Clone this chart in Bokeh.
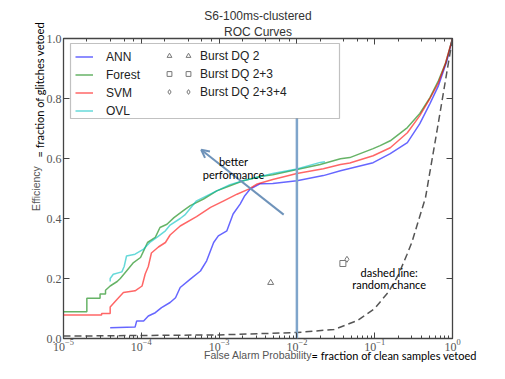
import numpy as np
from bokeh.plotting import figure
from bokeh.models import (LogAxis, LinearAxis, Legend, LegendItem, Label, Arrow, OpenHead, Title,
                          BoxAnnotation, FixedTicker, CustomJSTickFormatter, NumeralTickFormatter)
from bokeh.embed import file_html
from bokeh.resources import INLINE

# ---- data (log10 of false alarm probability, efficiency) ----
ann_logx = [-4.40, -4.08, -4.06, -3.97, -3.91, -3.82, -3.74, -3.63, -3.56, -3.50, -3.37, -3.24, -3.16,
            -3.07, -3.01, -2.90, -2.82, -2.73, -2.67, -2.60, -2.47, -2.31, -2.00, -1.66, -1.44, -1.02,
            -0.80, -0.58, -0.42, -0.29, -0.18, -0.07, 0.0]
ann_eff = [0.036, 0.038, 0.058, 0.058, 0.075, 0.086, 0.103, 0.120, 0.136, 0.170, 0.198, 0.225, 0.259,
           0.320, 0.342, 0.359, 0.415, 0.448, 0.476, 0.498, 0.516, 0.517, 0.526, 0.543, 0.559, 0.586,
           0.616, 0.653, 0.716, 0.783, 0.843, 0.927, 1.0]

forest_logx = [-5.0, -4.70, -4.70, -4.53, -4.53, -4.46, -4.46, -4.40, -4.31, -4.27, -4.19, -4.10, -4.01,
               -3.97, -3.92, -3.82, -3.76, -3.67, -3.58, -3.46, -3.37, -3.20, -3.03, -2.86, -2.69, -2.47,
               -2.31, -2.00, -1.70, -1.44, -1.32, -1.02, -0.93, -0.80, -0.58, -0.42, -0.29, -0.18, -0.09, 0.0]
forest_eff = [0.089, 0.089, 0.134, 0.134, 0.148, 0.148, 0.161, 0.175, 0.190, 0.200, 0.225, 0.253, 0.270,
              0.292, 0.320, 0.337, 0.370, 0.381, 0.403, 0.426, 0.443, 0.465, 0.492, 0.509, 0.526, 0.540,
              0.546, 0.563, 0.580, 0.599, 0.603, 0.633, 0.643, 0.659, 0.703, 0.750, 0.803, 0.860, 0.917, 1.0]

svm_logx = [-5.0, -4.51, -4.51, -4.40, -4.40, -4.31, -4.23, -4.08, -3.99, -3.95, -3.91, -3.87, -3.78,
            -3.69, -3.63, -3.50, -3.29, -3.11, -2.94, -2.77, -2.62, -2.51, -2.31, -2.00, -1.66, -1.44,
            -1.32, -1.02, -0.80, -0.58, -0.42, -0.29, -0.18, -0.09, 0.0]
svm_eff = [0.078, 0.078, 0.083, 0.083, 0.105, 0.131, 0.153, 0.159, 0.175, 0.215, 0.240, 0.285, 0.305,
           0.320, 0.345, 0.375, 0.406, 0.437, 0.459, 0.481, 0.498, 0.515, 0.530, 0.550, 0.566, 0.580,
           0.585, 0.609, 0.636, 0.686, 0.743, 0.800, 0.853, 0.917, 1.0]

ovl_logx = [-4.40, -4.40, -4.36, -4.25, -4.22, -4.19, -4.08, -3.97, -3.89, -3.80, -3.69, -3.63, -3.50,
            -3.44, -3.29, -3.03, -2.86, -2.69, -2.31, -2.00, -1.70, -1.64]
ovl_eff = [0.190, 0.200, 0.214, 0.222, 0.240, 0.275, 0.281, 0.298, 0.320, 0.337, 0.359, 0.378, 0.400,
           0.412, 0.459, 0.492, 0.513, 0.526, 0.550, 0.565, 0.587, 0.589]

rand_fap = [1e-5, 1e-3, 1e-2, 0.03, 0.06, 0.1, 0.15, 0.2, 0.26, 0.3, 0.45, 0.63, 0.8, 1.0]
rand_eff = [0.008, 0.012, 0.02, 0.03, 0.06, 0.10, 0.155, 0.21, 0.28, 0.32, 0.47, 0.69, 0.85, 1.0]

dq2_fap, dq2_eff = [0.0046], [0.186]
dq23_fap, dq23_eff = [0.039], [0.250]
dq234_fap, dq234_eff = [0.044], [0.264]

vline_fap = [0.01]
vline_eff = [0.0, 0.74]

y_ticks = [0.0, 0.2, 0.4, 0.6, 0.8, 1.0]

AX = "#444444"
p = figure(frame_width=389, frame_height=300, x_axis_type="log", x_range=(1e-5, 1.0), y_range=(0.0, 1.0),
           output_backend="svg", toolbar_location=None,
           min_border_left=63, min_border_right=48, min_border_top=38, min_border_bottom=35)
p.xgrid.visible = False
p.ygrid.visible = False
p.outline_line_color = AX
p.outline_line_width = 1.3
p.background_fill_color = "white"
p.border_fill_color = "white"

def style_axis(ax, labels=True, minor=True):
    ax.axis_line_color = None
    ax.major_tick_in = 6
    ax.major_tick_out = 0
    ax.minor_tick_in = 3 if minor else 0
    ax.minor_tick_out = 0
    ax.major_tick_line_color = AX
    ax.minor_tick_line_color = AX if minor else None
    ax.major_label_text_font = "Liberation Serif"
    ax.major_label_text_font_size = "12px"
    ax.major_label_text_color = "#555555"
    ax.major_label_standoff = 2
    ax.axis_label_text_font = "Liberation Sans"
    ax.axis_label_text_font_size = "10.5px"
    ax.axis_label_text_font_style = "normal"
    ax.axis_label_text_color = "#555555"
    ax.axis_label_standoff = 2
    if not labels:
        ax.formatter = CustomJSTickFormatter(code="return ''")

xa = p.xaxis[0]
style_axis(xa)
xa.axis_label = "False Alarm Probability"
xa.major_label_standoff = 0
xa.axis_label_standoff = -5
ya = p.yaxis[0]
ya.ticker = FixedTicker(ticks=y_ticks)
ya.formatter = NumeralTickFormatter(format="0.0")
style_axis(ya, minor=False)
ya.axis_label = "Efficiency"

top = LogAxis()
style_axis(top, labels=False)
p.add_layout(top, "above")
right = LinearAxis(ticker=FixedTicker(ticks=y_ticks))
style_axis(right, labels=False, minor=False)
p.add_layout(right, "right")

lw = 1.5
r_ann = p.line(10 ** np.array(ann_logx), ann_eff, line_color="#0000ff", line_alpha=0.6, line_width=lw)
r_for = p.line(10 ** np.array(forest_logx), forest_eff, line_color="#008000", line_alpha=0.6, line_width=lw)
r_svm = p.line(10 ** np.array(svm_logx), svm_eff, line_color="#ff0000", line_alpha=0.6, line_width=lw)
r_ovl = p.line(10 ** np.array(ovl_logx), ovl_eff, line_color="#00bfbf", line_alpha=0.6, line_width=lw)
p.line(rand_fap, rand_eff, line_color="#555555", line_width=1.5, line_dash="7 4")

mk = dict(size=6, line_color="#777777", fill_color="white", line_width=1)
r_dq2 = p.scatter(dq2_fap, dq2_eff, marker="triangle", **mk)
r_dq23 = p.scatter(dq23_fap, dq23_eff, marker="square", **mk)
r_dq234 = p.scatter(dq234_fap, dq234_eff, marker="diamond", **mk)

p.segment(x0=vline_fap, y0=[vline_eff[0]], x1=vline_fap, y1=[vline_eff[1]],
          line_color="#7fa5cb", line_width=2.5)

arrow_col = "#6f93ba"
p.add_layout(Arrow(end=OpenHead(size=8, line_color=arrow_col, line_width=2),
                   x_start=10 ** -2.17, y_start=0.413, x_end=10 ** -3.23, y_end=0.629,
                   line_color=arrow_col, line_width=2))

# legend frame
p.add_layout(BoxAnnotation(left=7, right=276, bottom=220, top=295,
                           left_units="screen", right_units="screen",
                           bottom_units="screen", top_units="screen",
                           fill_color="white", fill_alpha=1.0, line_color="#333333", line_width=1.2))

leg_common = dict(border_line_color=None, background_fill_alpha=0, margin=0, padding=3,
                  spacing=3, glyph_height=15, label_height=15,
                  label_text_font="Liberation Sans", label_text_font_size="12px",
                  label_text_color="#222222")
leg1 = Legend(items=[LegendItem(label="ANN", renderers=[r_ann]),
                     LegendItem(label="Forest", renderers=[r_for]),
                     LegendItem(label="SVM", renderers=[r_svm]),
                     LegendItem(label="OVL", renderers=[r_ovl])],
              location=(12, 220), glyph_width=18, label_standoff=13, **leg_common)
leg3 = Legend(items=[LegendItem(label=" ", renderers=[r_dq2]),
                     LegendItem(label=" ", renderers=[r_dq23]),
                     LegendItem(label=" ", renderers=[r_dq234])],
              location=(100, 239), glyph_width=12, label_standoff=2, **leg_common)
leg2 = Legend(items=[LegendItem(label="Burst DQ 2", renderers=[r_dq2]),
                     LegendItem(label="Burst DQ 2+3", renderers=[r_dq23]),
                     LegendItem(label="Burst DQ 2+3+4", renderers=[r_dq234])],
              location=(119, 239), glyph_width=12, label_standoff=6, **leg_common)
for lg in (leg1, leg3, leg2):
    p.add_layout(lg)

# titles (closest to the frame first)
for txt in ("ROC Curves", "S6-100ms-clustered"):
    p.add_layout(Title(text=txt, align="center", standoff=0, text_font="Liberation Sans",
                       text_font_size="12px", text_font_style="normal", text_color="#333333"), "above")

# slide overlay parts of the axis labels
p.add_layout(Title(text="= fraction of clean samples vetoed", align="left", offset=248, standoff=-30,
                   vertical_align="top", text_font="Lato", text_font_size="11px",
                   text_font_style="normal", text_color="black"), "below")
p.add_layout(Title(text="= fraction of glitches vetoed", align="left", offset=181, standoff=-38,
                   vertical_align="bottom", text_font="Lato", text_font_size="11px",
                   text_font_style="normal", text_color="black"), "left")

# slide annotations inside the frame
for txt, yy in (("better", 0.591), ("performance", 0.546)):
    p.add_layout(Label(x=10 ** -2.815, y=yy, text=txt, text_align="center", text_baseline="middle",
                       text_font="Lato", text_font_size="11px", text_color="black"))
for txt, yy in (("dashed line:", 0.221), ("random chance", 0.179)):
    p.add_layout(Label(x=10 ** -0.814, y=yy, text=txt, text_align="center", text_baseline="middle",
                       text_font="Lato", text_font_size="11px", text_color="black"))

open("out.html", "w").write(file_html(p, INLINE))
